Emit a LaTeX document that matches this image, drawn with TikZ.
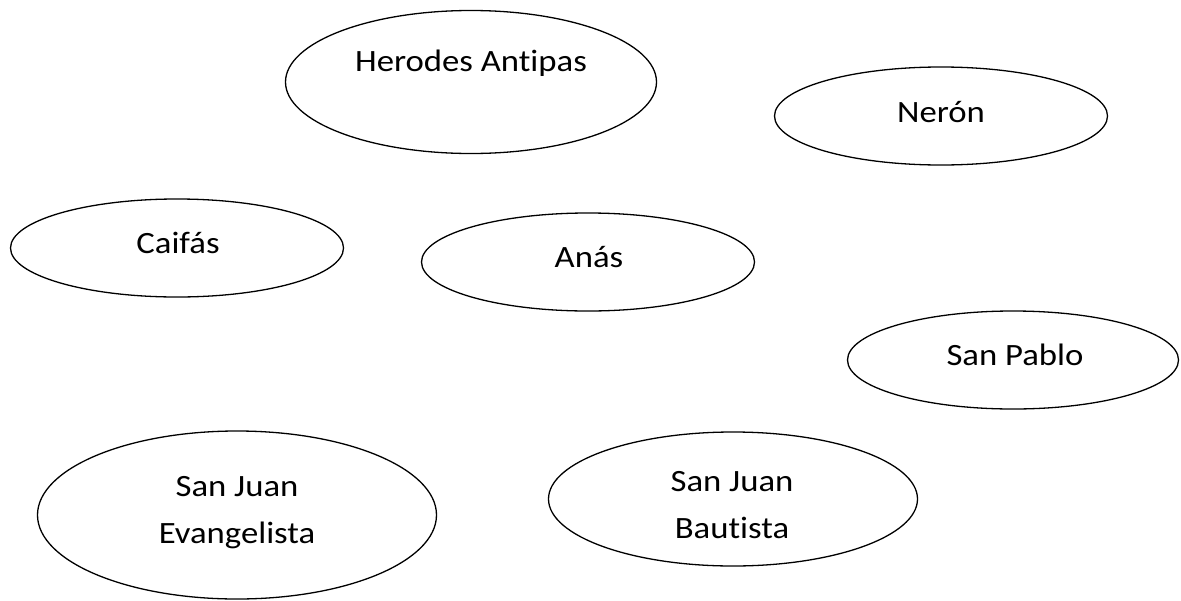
\documentclass[tikz,border=0pt]{standalone}
\usepackage{fontspec}
\setmainfont{Carlito}[Ligatures=NoCommon,FakeStretch=1.12]
\usetikzlibrary{shapes.geometric}
\begin{document}
\begin{tikzpicture}[x=1pt,y=-1pt,
  oval/.style={draw=black,line width=1.3pt,ellipse,inner sep=0pt},
  lbl/.style={font=\fontsize{31}{47}\selectfont,align=center,inner sep=0pt}]
\useasboundingbox (0,0) rectangle (1181,600);
\node[oval,minimum width=371pt,minimum height=143pt] (herodes) at (471,82) {};
\node[lbl,anchor=base] (herodesT) at (471,71) {Herodes Antipas};
\node[oval,minimum width=333pt,minimum height=98pt] (neron) at (941,116) {};
\node[lbl,anchor=base] (neronT) at (941,122) {Nerón};
\node[oval,minimum width=333pt,minimum height=98pt] (caifas) at (177,248) {};
\node[lbl,anchor=base] (caifasT) at (178,253) {Caifás};
\node[oval,minimum width=333pt,minimum height=98pt] (anas) at (588,262) {};
\node[lbl,anchor=base] (anasT) at (589,267) {Anás};
\node[oval,minimum width=331pt,minimum height=98pt] (pablo) at (1013,360) {};
\node[lbl,anchor=base] (pabloT) at (1015,365) {San Pablo};
\node[oval,minimum width=399pt,minimum height=168pt] (evang) at (237,515) {};
\node[lbl] (evangT) at (237,513) {San Juan\\Evangelista};
\node[oval,minimum width=369pt,minimum height=134pt] (baut) at (733,499) {};
\node[lbl] (bautT) at (732,505) {San Juan\\Bautista};
\end{tikzpicture}
\end{document}
